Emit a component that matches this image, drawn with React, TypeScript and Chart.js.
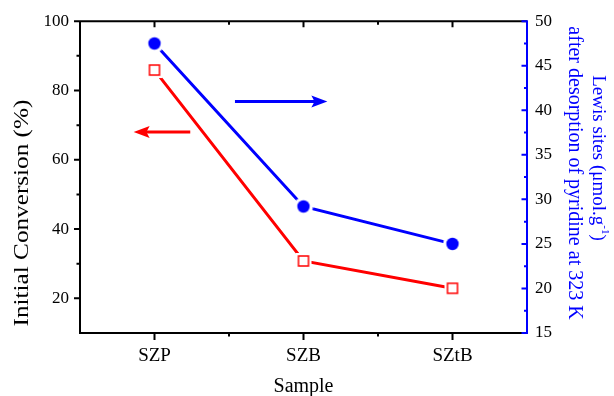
import React, { useEffect, useRef } from "react";
import { Chart, registerables } from "chart.js";

Chart.register(...registerables);

const categories = ["SZP", "SZB", "SZtB"];
const conversion = [85.9, 30.8, 22.9];
const lewisSites = [47.5, 29.2, 25.0];

const leftTicks = [20, 40, 60, 80, 100];
const leftMinor = [30, 50, 70, 90];
const rightTicks = [15, 20, 25, 30, 35, 40, 45, 50];
const rightMinor = [17.5, 22.5, 27.5, 32.5, 37.5, 42.5, 47.5];
const xMinor = [0.5, 1.5];

// arrows: [xStart, xEnd, value] (x in category index units)
const blueArrow = [0.54, 1.16, 41];
const redArrow = [0.24, -0.14, 68];

const RED = "#ff0000";
const BLUE = "#0000ff";
const FONT = "'Liberation Serif', 'Times New Roman', serif";

function makeSquare(): HTMLCanvasElement {
  const c = document.createElement("canvas");
  c.width = 18;
  c.height = 18;
  const g = c.getContext("2d")!;
  g.fillStyle = "#ffffff";
  g.fillRect(1, 1, 16, 16);
  g.strokeStyle = RED;
  g.lineWidth = 1.5;
  g.strokeRect(4, 4, 10, 10);
  return c;
}
function makeCircle(): HTMLCanvasElement {
  const c = document.createElement("canvas");
  c.width = 20;
  c.height = 20;
  const g = c.getContext("2d")!;
  g.fillStyle = "#ffffff";
  g.beginPath();
  g.arc(10, 10, 9.5, 0, Math.PI * 2);
  g.fill();
  g.fillStyle = BLUE;
  g.beginPath();
  g.arc(10, 10, 6.2, 0, Math.PI * 2);
  g.fill();
  return c;
}

function drawArrow(ctx: CanvasRenderingContext2D, x1: number, x2: number, y: number, color: string) {
  const dir = Math.sign(x2 - x1);
  const headL = 16;
  const headW = 6;
  ctx.save();
  ctx.strokeStyle = color;
  ctx.fillStyle = color;
  ctx.lineWidth = 3;
  ctx.beginPath();
  ctx.moveTo(x1, y);
  ctx.lineTo(x2 - dir * headL * 0.7, y);
  ctx.stroke();
  ctx.beginPath();
  ctx.moveTo(x2, y);
  ctx.lineTo(x2 - dir * headL, y - headW);
  ctx.lineTo(x2 - dir * headL * 0.8, y);
  ctx.lineTo(x2 - dir * headL, y + headW);
  ctx.closePath();
  ctx.fill();
  ctx.restore();
}

const framePlugin = {
  id: "frame",
  afterDraw(chart: any) {
    const ctx: CanvasRenderingContext2D = chart.ctx;
    const { left, right, top, bottom } = chart.chartArea;
    const x = chart.scales.x;
    const y = chart.scales.y;
    const y2 = chart.scales.y2;

    drawArrow(ctx, x.getPixelForValue(blueArrow[0]), x.getPixelForValue(blueArrow[1]), y2.getPixelForValue(blueArrow[2]), BLUE);
    drawArrow(ctx, x.getPixelForValue(redArrow[0]), x.getPixelForValue(redArrow[1]), y.getPixelForValue(redArrow[2]), RED);

    ctx.save();
    ctx.lineWidth = 2;
    ctx.strokeStyle = "#000";
    ctx.beginPath();
    ctx.moveTo(left, top);
    ctx.lineTo(right, top);
    ctx.moveTo(left, bottom);
    ctx.lineTo(right, bottom);
    ctx.moveTo(left, top - 1);
    ctx.lineTo(left, bottom + 1);
    leftTicks.forEach((v) => {
      const p = y.getPixelForValue(v);
      ctx.moveTo(left - 6, p);
      ctx.lineTo(left, p);
    });
    leftMinor.forEach((v) => {
      const p = y.getPixelForValue(v);
      ctx.moveTo(left - 3.5, p);
      ctx.lineTo(left, p);
    });
    categories.forEach((_, i) => {
      const p = x.getPixelForValue(i);
      ctx.moveTo(p, bottom);
      ctx.lineTo(p, bottom + 7);
      ctx.moveTo(p, top);
      ctx.lineTo(p, top + 6);
    });
    xMinor.forEach((v) => {
      const p = x.getPixelForValue(v);
      ctx.moveTo(p, bottom);
      ctx.lineTo(p, bottom + 3.5);
      ctx.moveTo(p, top);
      ctx.lineTo(p, top + 3.5);
    });
    ctx.stroke();

    ctx.strokeStyle = BLUE;
    ctx.beginPath();
    ctx.moveTo(right, top - 1);
    ctx.lineTo(right, bottom + 1);
    rightTicks.forEach((v) => {
      const p = y2.getPixelForValue(v);
      ctx.moveTo(right - 5.5, p);
      ctx.lineTo(right, p);
    });
    rightMinor.forEach((v) => {
      const p = y2.getPixelForValue(v);
      ctx.moveTo(right - 3, p);
      ctx.lineTo(right, p);
    });
    ctx.stroke();

    // titles
    ctx.textAlign = "center";
    ctx.textBaseline = "middle";
    ctx.fillStyle = "#000";
    ctx.font = `20px ${FONT}`;
    ctx.fillText("Sample", (left + right) / 2, 387);

    ctx.save();
    ctx.translate(22, 213);
    ctx.rotate(-Math.PI / 2);
    ctx.scale(1.2, 1);
    ctx.font = `21px ${FONT}`;
    ctx.fillText("Initial Conversion (%)", 0, 0);
    ctx.restore();

    ctx.fillStyle = BLUE;
    ctx.save();
    ctx.translate(598, 158);
    ctx.rotate(Math.PI / 2);
    const mainF = `19px ${FONT}`;
    const supF = `11px ${FONT}`;
    const t1 = "Lewis sites (\u03bcmol.g";
    const t2 = "-1";
    const t3 = ")";
    ctx.font = mainF;
    const w1 = ctx.measureText(t1).width;
    const w3 = ctx.measureText(t3).width;
    ctx.font = supF;
    const w2 = ctx.measureText(t2).width;
    const total = w1 + w2 + w3;
    let cx = -total / 2;
    ctx.textAlign = "left";
    ctx.font = mainF;
    ctx.fillText(t1, cx, 0);
    cx += w1;
    ctx.font = supF;
    ctx.fillText(t2, cx, -7);
    cx += w2;
    ctx.font = mainF;
    ctx.fillText(t3, cx, 0);
    ctx.restore();

    ctx.save();
    ctx.translate(574, 173);
    ctx.rotate(Math.PI / 2);
    ctx.textAlign = "center";
    ctx.font = `20px ${FONT}`;
    ctx.fillText("after desorption of pyridine at 323 K", 0, 0);
    ctx.restore();

    ctx.restore();
  },
};

export default function App() {
  const ref = useRef<HTMLCanvasElement>(null);
  useEffect(() => {
    const sq = makeSquare();
    const ci = makeCircle();
    const chart = new Chart(ref.current!, {
      type: "line",
      data: {
        labels: categories,
        datasets: [
          {
            data: lewisSites,
            yAxisID: "y2",
            borderColor: BLUE,
            borderWidth: 3,
            pointStyle: ci as any,
            pointRadius: 10,
            tension: 0,
          },
          {
            data: conversion,
            yAxisID: "y",
            borderColor: RED,
            borderWidth: 3,
            pointStyle: sq as any,
            pointRadius: 9,
            tension: 0,
          },
        ],
      },
      options: {
        animation: false,
        responsive: false,
        layout: { padding: { top: 21, left: 0, right: 0, bottom: 0 } },
        plugins: { legend: { display: false }, tooltip: { enabled: false } },
        scales: {
          x: {
            type: "category",
            offset: true,
            grid: { display: false, drawTicks: false },
            border: { display: false },
            ticks: { color: "#000", font: { family: FONT, size: 19 }, padding: 12 },
            afterFit: (s: any) => {
              s.height = 63;
            },
          },
          y: {
            position: "left",
            min: 10,
            max: 100,
            grid: { display: false, drawTicks: false },
            border: { display: false },
            ticks: { color: "#000", font: { family: FONT, size: 17 }, padding: 11 },
            afterBuildTicks: (s: any) => {
              s.ticks = leftTicks.map((v) => ({ value: v }));
            },
            afterFit: (s: any) => {
              s.width = 80;
            },
          },
          y2: {
            position: "right",
            min: 15,
            max: 50,
            grid: { display: false, drawTicks: false },
            border: { display: false },
            ticks: { color: "#000", font: { family: FONT, size: 17 }, padding: 8 },
            afterBuildTicks: (s: any) => {
              s.ticks = rightTicks.map((v) => ({ value: v }));
            },
            afterFit: (s: any) => {
              s.width = 87;
            },
          },
        },
      },
      plugins: [framePlugin],
    });
    return () => chart.destroy();
  }, []);
  return (
    <div style={{ position: "absolute", left: 0, top: 0, width: 614, height: 396, background: "#fff" }}>
      <canvas ref={ref} width={614} height={396} />
    </div>
  );
}
